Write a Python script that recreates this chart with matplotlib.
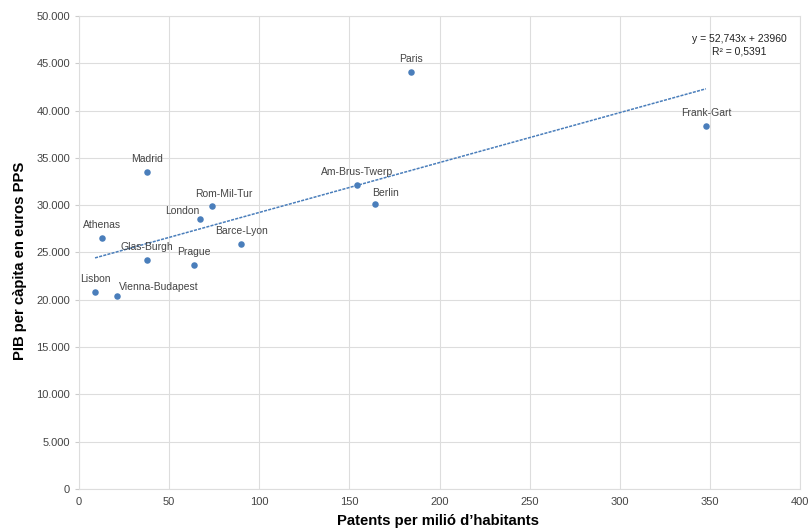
import matplotlib
matplotlib.use("Agg")
import matplotlib.pyplot as plt
from matplotlib.ticker import FuncFormatter
import numpy as np

plt.rcParams["font.family"] = ["Liberation Sans", "DejaVu Sans"]

# ---- data ----
cities = ["Paris", "Frank-Gart", "Madrid", "Am-Brus-Twerp", "Rom-Mil-Tur", "Berlin", "London",
          "Athenas", "Barce-Lyon", "Glas-Burgh", "Prague", "Lisbon", "Vienna-Budapest"]
patents = [184.2, 347.8, 37.7, 154.2, 73.8, 164.2, 67.1, 12.8, 89.9, 37.7, 63.8, 8.9, 21.1]
gdp = [44080, 38370, 33500, 32100, 29900, 30100, 28500, 26500, 25900, 24200, 23700, 20800, 20400]
slope, intercept, r2 = 52.743, 23960, 0.5391

# label offsets in pixels (dx, dy, ha)
offsets = {"Rom-Mil-Tur": (12, 12, "center"), "London": (-18, 8, "center"), "Berlin": (11, 11, "center"),
           "Vienna-Budapest": (2, 9, "left")}

blue = "#4a7ebb"
grey = "#444444"

fig = plt.figure(figsize=(8.11, 5.29), dpi=100)
ax = fig.add_axes([79/811, 40/529, 721/811, 473/529])

ax.scatter(patents, gdp, s=22, color=blue, zorder=3, linewidths=0)

xs = np.array([min(patents), max(patents)])
ax.plot(xs, slope*xs + intercept, color=blue, lw=1.1, ls=(0, (2, 0.8)), zorder=2)

for name, x, y in zip(cities, patents, gdp):
    dx, dy, ha = offsets.get(name, (0, 13, "center"))
    ax.annotate(name, (x, y), xytext=(dx, dy), textcoords="offset pixels", ha=ha, va="center",
                fontsize=7.5, color=grey)

ax.set_xlim(0, 400)
ax.set_ylim(0, 50000)
ax.set_xticks(range(0, 401, 50))
ax.set_yticks(range(0, 50001, 5000))
ax.yaxis.set_major_formatter(FuncFormatter(lambda v, p: f"{int(v):,}".replace(",", ".")))
ax.grid(True, color="#dddddd", lw=0.8)
ax.set_axisbelow(True)
for s in ax.spines.values():
    s.set_color("#dddddd")
    s.set_linewidth(0.8)
ax.tick_params(axis="both", labelsize=8, colors=grey, length=3, color="#cccccc")
ax.tick_params(axis="x", length=0, pad=6)

ax.set_xlabel("Patents per milió d’habitants", fontsize=10.7, fontweight="bold", va="center")
ax.xaxis.set_label_coords(0.498, -0.067)
ax.set_ylabel("PIB per càpita en euros PPS", fontsize=10.7, fontweight="bold", va="center")
ax.yaxis.set_label_coords(-0.082, 0.482)

fig.text(739/811, 1 - 39/529, f"y = {slope:.3f}x + {intercept}".replace(".", ","), ha="center", va="center",
         fontsize=7.5, color="#222222")
fig.text(739/811, 1 - 52/529, f"R² = {r2:.4f}".replace(".", ","), ha="center", va="center",
         fontsize=7.5, color="#222222")

fig.savefig("out.png", dpi=100)
